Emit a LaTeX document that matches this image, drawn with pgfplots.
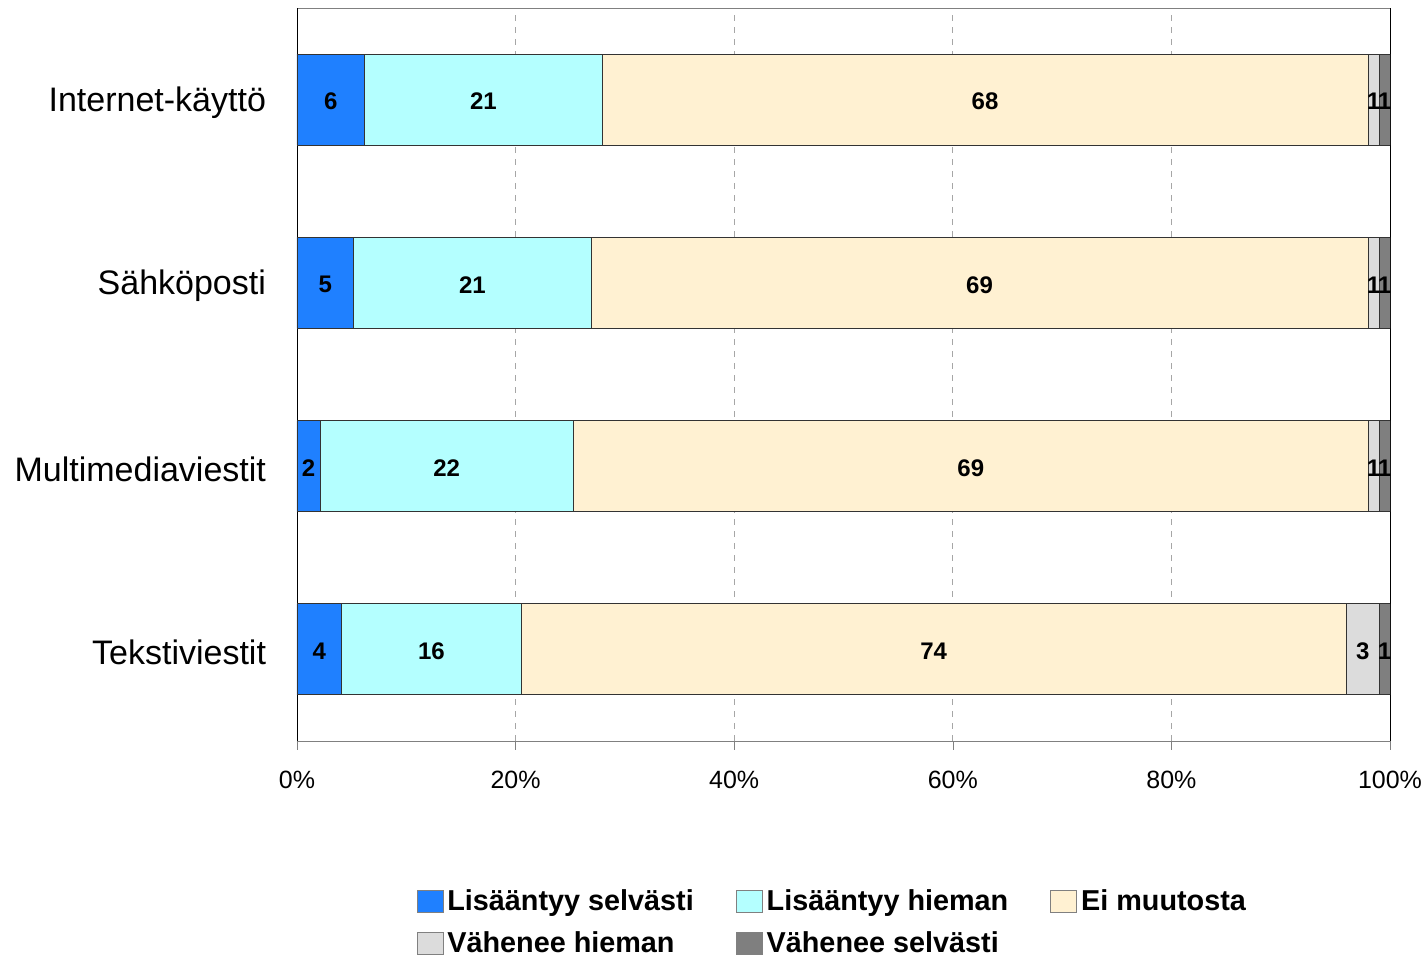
\documentclass[border=0pt]{standalone}
\usepackage{fontspec}
\setmainfont{Liberation Sans}
\usepackage{pgfplots}
\usepackage{pgfplotstable}
\pgfplotsset{compat=1.18}
\usetikzlibrary{calc}
\definecolor{cA}{HTML}{1F80FF}
\definecolor{cB}{HTML}{B4FFFF}
\definecolor{cC}{HTML}{FFF1D2}
\definecolor{cD}{HTML}{DCDCDC}
\definecolor{cE}{HTML}{7F7F7F}

% widths are the shares drawn (normalised), l = printed value
\pgfplotstableread{
y  w1  l1 w2   l2 w3   l3 w4  l4 w5  l5
3  6.2 6  21.7 21 70.1 68 1.0 1  1.0 1
2  5.2 5  21.7 21 71.1 69 1.0 1  1.0 1
1  2.1 2  23.2 22 72.7 69 1.0 1  1.0 1
0  4.1 4  16.4 16 75.5 74 3.0 3  1.0 1
}\data

\begin{document}
\begin{tikzpicture}
\begin{axis}[
 scale only axis,width=546.5pt,height=366.5pt,
 xbar stacked,bar width=45.5pt,
 xmin=0,xmax=100,ymin=-0.5,ymax=3.5,
 xtick={0,20,40,60,80,100},
 xticklabel={\pgfmathprintnumber{\tick}\%},
 /pgf/number format/assume math mode=true,
 xtick pos=bottom,tick align=outside,major tick length=4.5pt,
 ytick={0,1,2,3},
 yticklabels={Tekstiviestit,Multimediaviestit,Sähköposti,Internet-käyttö},
 ytick style={draw=none},
 yticklabel style={font=\fontsize{17}{19}\selectfont,xshift=-7.5pt,yshift=-1.5pt},
 xticklabel style={font=\fontsize{12.5}{15}\selectfont,inner sep=0pt,yshift=-10.5pt},
 separate axis lines,
 x axis line style={draw=gray},
 y axis line style={draw=black},
 xmajorgrids,grid style={dashed,draw=gray!70},
 point meta=explicit symbolic,
 nodes near coords,
 every node near coord/.append style={font=\fontsize{12}{14}\bfseries,anchor=center,yshift=-1pt},
 legend columns=3,
 legend cell align=left,
 legend style={at={(0.109,0)},anchor=north west,yshift=-72pt,draw=none,
   inner sep=0pt,font=\fontsize{14.4}{17}\bfseries,row sep=5pt,
   /tikz/every odd column/.append style={column sep=0pt},
   /tikz/every even column/.append style={column sep=19pt}},
 legend image code/.code={\draw[#1,draw=gray] (0pt,-5.5pt) rectangle (13pt,5.5pt);},
]
\addplot[fill=cA,draw=black!80] table[x=w1,y=y,meta=l1]{\data};
\addplot[fill=cB,draw=black!80] table[x=w2,y=y,meta=l2]{\data};
\addplot[fill=cC,draw=black!80] table[x=w3,y=y,meta=l3]{\data};
\addplot[fill=cD,draw=black!80] table[x=w4,y=y,meta=l4]{\data};
\addplot[fill=cE,draw=black!80] table[x=w5,y=y,meta=l5]{\data};
\legend{Lisääntyy selvästi,Lisääntyy hieman,Ei muutosta,Vähenee hieman,Vähenee selvästi}
\end{axis}
\path ($(current axis.south west)+(-148.5pt,-107pt)$) rectangle ($(current axis.north east)+(17pt,4pt)$);
\end{tikzpicture}
\end{document}
